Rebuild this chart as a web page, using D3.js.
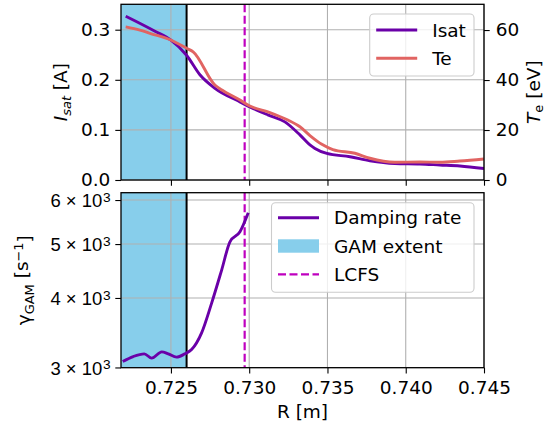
<!DOCTYPE html>
<html><head><meta charset="utf-8">
<script src="https://cdn.jsdelivr.net/npm/d3@7"></script>
<style>
body{margin:0;background:#fff;}
svg{display:block;font-family:"DejaVu Sans",sans-serif;}
</style></head>
<body><svg id="c" width="546" height="428"></svg>
<script>
// ---- data ----
const isatR = [0.72211,0.72398,0.72500,0.72600,0.72685,0.72781,0.72941,0.73004,0.73119,0.73228,0.73324,0.73388,0.73420,0.73496,0.73644,0.73771,0.73930,0.74090,0.74218,0.74346,0.74500];
const isatV = [0.327,0.297,0.279,0.249,0.210,0.183,0.156,0.146,0.130,0.116,0.090,0.070,0.063,0.053,0.0465,0.0385,0.033,0.032,0.030,0.028,0.023];
const teR = [0.72211,0.72302,0.72366,0.72500,0.72600,0.72642,0.72781,0.72826,0.72941,0.73004,0.73132,0.73247,0.73324,0.73388,0.73464,0.73534,0.73675,0.73771,0.73930,0.74090,0.74218,0.74346,0.74500];
const teV = [61.3,60.0,58.7,56.0,52.7,51.3,38.0,36.0,32.0,29.6,27.0,24.0,21.3,17.8,14.3,12.2,10.7,8.7,7.1,7.2,7.1,7.6,8.4];
const dampR = [0.72192,0.72259,0.72330,0.72377,0.72441,0.72483,0.72536,0.72589,0.72632,0.72696,0.72760,0.72824,0.72877,0.72941,0.72994];
const dampV = [3075,3139,3174,3118,3200,3174,3131,3174,3230,3461,3915,4490,5047,5260,5690];
const gamExtent = [0.72181, 0.72600];
const lcfsR = 0.72971;
const xTicks = [0.725,0.730,0.735,0.740,0.745];
const isatTicks = [0.0,0.1,0.2,0.3];
const teTicks = [0,20,40,60];
const dampTicks = [3000,4000,5000,6000];
const dampTickLabels = [["3","3"],["4","3"],["5","3"],["6","3"]];

const C = {isat:"#6a00a8", te:"#e16462", gam:"#87ceeb", lcfs:"#bf00bf", grid:"#b0b0b0"};
const FS = 18.5;
const svg = d3.select("#c");
const L = 121, R = 484, T1 = 4.3, B1 = 180, T2 = 192.7, B2 = 367.7;

const x = d3.scaleLinear().domain([0.72181, 0.745]).range([L, R]);
const yI = d3.scaleLinear().domain([0, 0.3507]).range([B1, T1]);
const yT = d3.scaleLinear().domain([0, 70.3]).range([B1, T1]);
const yD = d3.scaleLog().domain([2997, 6185]).range([B2, T2]);

function clip(id, t, b){
  svg.append("clipPath").attr("id", id).append("rect").attr("x", L).attr("y", t).attr("width", R-L).attr("height", b-t);
}
clip("c1", T1, B1); clip("c2", T2, B2);

function panel(t, b, yScale, yTickVals){
  const g = svg.append("g");
  g.append("rect").attr("x", x(gamExtent[0])).attr("y", t).attr("width", x(gamExtent[1]) - x(gamExtent[0])).attr("height", b - t).attr("fill", C.gam);
  g.selectAll(".gx").data(xTicks).join("line").attr("x1", d=>x(d)).attr("x2", d=>x(d)).attr("y1", t).attr("y2", b).attr("stroke", C.grid).attr("stroke-width", 1.1);
  g.selectAll(".gy").data(yTickVals).join("line").attr("x1", L).attr("x2", R).attr("y1", d=>yScale(d)).attr("y2", d=>yScale(d)).attr("stroke", C.grid).attr("stroke-width", 1.1);
  g.append("line").attr("x1", x(gamExtent[1])).attr("x2", x(gamExtent[1])).attr("y1", t).attr("y2", b).attr("stroke", "#000").attr("stroke-width", 2);
  g.append("line").attr("x1", x(lcfsR)).attr("x2", x(lcfsR)).attr("y1", t).attr("y2", b).attr("stroke", C.lcfs).attr("stroke-width", 2.2).attr("stroke-dasharray", "8,3.5");
  return g;
}

const line = (xs, ys, ysc) => d3.line().x((d,i)=>x(xs[i])).y((d,i)=>ysc(ys[i])).curve(d3.curveMonotoneX)(xs);

const g1 = panel(T1, B1, yI, isatTicks);
g1.append("path").attr("d", line(isatR, isatV, yI)).attr("fill","none").attr("stroke", C.isat).attr("stroke-width", 2.9).attr("clip-path","url(#c1)");
g1.append("path").attr("d", line(teR, teV, yT)).attr("fill","none").attr("stroke", C.te).attr("stroke-width", 2.9).attr("clip-path","url(#c1)");

const g2 = panel(T2, B2, yD, dampTicks);
g2.append("path").attr("d", line(dampR, dampV, yD)).attr("fill","none").attr("stroke", C.isat).attr("stroke-width", 2.9).attr("clip-path","url(#c2)");

function styleAxis(sel){
  sel.selectAll(".domain").remove();
  sel.selectAll(".tick line").attr("stroke","#000").attr("stroke-width",1.1);
  sel.selectAll(".tick text").attr("font-size", FS).attr("fill","#000").attr("font-family","DejaVu Sans");
}
svg.append("g").attr("transform",`translate(0,${B1})`).call(d3.axisBottom(x).tickValues(xTicks).tickSize(5.7).tickFormat("")).call(styleAxis);
svg.append("g").attr("transform",`translate(0,${B2})`).call(d3.axisBottom(x).tickValues(xTicks).tickSize(5.7).tickPadding(5).tickFormat(d3.format(".3f"))).call(styleAxis)
  .selectAll(".tick text").attr("dy", null).attr("y", 0).attr("transform","translate(0,25.8)");
svg.append("g").attr("transform",`translate(${L},0)`).call(d3.axisLeft(yI).tickValues(isatTicks).tickSize(5.7).tickPadding(5).tickFormat(d3.format(".1f"))).call(styleAxis);
svg.append("g").attr("transform",`translate(${R},0)`).call(d3.axisRight(yT).tickValues(teTicks).tickSize(5.7).tickPadding(6).tickFormat(d3.format("d"))).call(styleAxis);
const ay = svg.append("g").attr("transform",`translate(${L},0)`).call(d3.axisLeft(yD).tickValues(dampTicks).tickSize(5.7).tickPadding(5).tickFormat("")).call(styleAxis);
ay.selectAll(".tick").each(function(d,i){
  const t = d3.select(this).append("text").attr("x",-10.5).attr("dy","0.36em").attr("text-anchor","end").attr("font-size",FS).attr("fill","#000");
  t.append("tspan").text(dampTickLabels[i][0] + " × 10");
  t.append("tspan").attr("dy",-5.5).attr("dx",0.5).attr("font-size",FS*0.74).text(dampTickLabels[i][1]);
});

[[T1,B1],[T2,B2]].forEach(([t,b])=>{
  svg.append("rect").attr("x",L).attr("y",t).attr("width",R-L).attr("height",b-t).attr("fill","none").attr("stroke","#000").attr("stroke-width",1.3);
});

const yl1 = svg.append("text").attr("transform",`translate(67,${(T1+B1)/2}) rotate(-90)`).attr("text-anchor","middle").attr("font-size",FS);
yl1.append("tspan").attr("font-style","italic").text("I");
yl1.append("tspan").attr("font-style","italic").attr("font-size",FS*0.7).attr("dy","0.3em").text("sat");
yl1.append("tspan").attr("dy","-0.21em").text(" [A]");

const yl2 = svg.append("text").attr("transform",`translate(539.5,${(T1+B1)/2}) rotate(-90)`).attr("text-anchor","middle").attr("font-size",FS);
yl2.append("tspan").attr("font-style","italic").text("T");
yl2.append("tspan").attr("font-size",FS*0.7).attr("dy","0.3em").text("e");
yl2.append("tspan").attr("dy","-0.21em").text(" [eV]");

const yl3 = svg.append("text").attr("transform",`translate(30,${(T2+B2)/2}) rotate(-90)`).attr("text-anchor","middle").attr("font-size",FS);
yl3.append("tspan").text("γ");
yl3.append("tspan").attr("font-size",FS*0.7).attr("dy","0.3em").text("GAM");
yl3.append("tspan").attr("dy","-0.3em").text(" [s");
yl3.append("tspan").attr("font-size",FS*0.7).attr("dy","-0.45em").text("−1");
yl3.append("tspan").attr("dy","0.45em").text("]");

svg.append("text").attr("x",(L+R)/2).attr("y",417.5).attr("text-anchor","middle").attr("font-size",FS).text("R [m]");

function legend(bx, by, bw, bh, items){
  const g = svg.append("g");
  g.append("rect").attr("x",bx).attr("y",by).attr("width",bw).attr("height",bh).attr("rx",4).attr("fill","#fff").attr("fill-opacity",0.8).attr("stroke","#cccccc").attr("stroke-width",1.1);
  items.forEach(it=>{
    if(it.type==="line") g.append("line").attr("x1",bx+6.5).attr("x2",bx+47.5).attr("y1",it.y).attr("y2",it.y).attr("stroke",it.color).attr("stroke-width",it.w||2.9).attr("stroke-dasharray",it.dash||null);
    else g.append("rect").attr("x",bx+6.5).attr("y",it.y-6.7).attr("width",41).attr("height",13.4).attr("fill",it.color);
    g.append("text").attr("x",bx+62.5).attr("y",it.y).attr("dy","0.36em").attr("font-size",FS).text(it.label);
  });
}
legend(369.7, 14, 104.3, 62, [
  {type:"line", color:C.isat, y:30, label:"Isat"},
  {type:"line", color:C.te, y:58.3, label:"Te"}
]);
legend(271.5, 202.7, 202.5, 89.6, [
  {type:"line", color:C.isat, y:217.7, label:"Damping rate"},
  {type:"rect", color:C.gam, y:246, label:"GAM extent"},
  {type:"line", color:C.lcfs, y:274.3, label:"LCFS", dash:"8,3.5", w:2.2}
]);
</script></body></html>
